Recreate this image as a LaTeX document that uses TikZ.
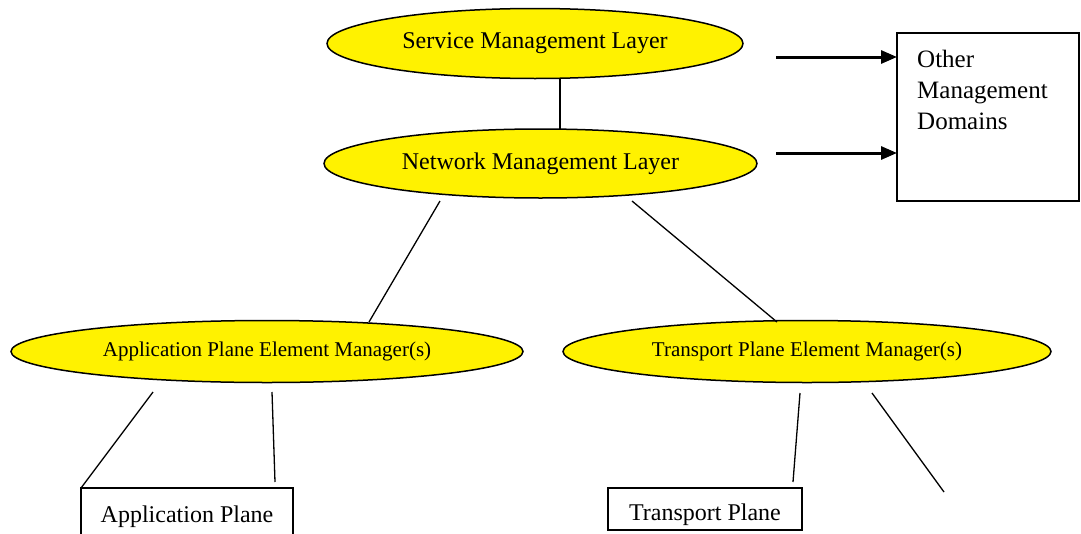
\documentclass[tikz,border=0pt]{standalone}
\usepackage{fontspec}
\setmainfont{Liberation Serif}
\usetikzlibrary{shapes.geometric,calc,arrows.meta}

\tikzset{
  layer/.style={ellipse, draw=black, line width=1.5pt, fill=yellow, inner sep=0pt,
    outer sep=0pt, font=\fontsize{24}{29}\selectfont},
  emgr/.style={ellipse, draw=black, line width=1.5pt, fill=yellow, inner sep=0pt,
    outer sep=0pt, font=\fontsize{21}{25}\selectfont},
  planebox/.style={rectangle, draw=black, line width=1.5pt, inner sep=0pt,
    outer sep=0pt, anchor=north west, font=\fontsize{24}{29}\selectfont},
  domainbox/.style={rectangle, draw=black, line width=1.5pt, inner sep=0pt,
    outer sep=0pt, anchor=north west},
  link/.style={draw=black, line width=1.3pt},
  flow/.style={draw=black, line width=3pt, -{Triangle[length=16pt,width=13pt]}}
}

\begin{document}
\begin{tikzpicture}[x=1pt,y=-1pt]
\useasboundingbox (0,0) rectangle (1081,533);
\clip (0,0) rectangle (1081,533);

% management layers
\node[layer, minimum width=416, minimum height=70] (sml) at (535,43.5) {Service Management Layer};
\node[layer, minimum width=433, minimum height=69] (nml) at (540.5,163.5) {Network Management Layer};

% element managers
\node[emgr, minimum width=512, minimum height=62] (apem) at (267,351.5) {Application Plane Element Manager(s)};
\node[emgr, minimum width=488, minimum height=62] (tpem) at (807,351.5) {Transport Plane Element Manager(s)};

% managed planes
\node[planebox, minimum width=212, minimum height=57] (apbox) at (81,488) {Application Plane};
\node[planebox, minimum width=194, minimum height=42, text height=22pt, text depth=0pt]
  (tpbox) at (608,488) {Transport Plane};

% other domains
\node[domainbox, minimum width=182, minimum height=168] (omd) at (897,33) {};
\node[anchor=north west, align=left, inner sep=0pt, font=\fontsize{25}{31}\selectfont]
  (omdtext) at ($(omd.north west)+(20,17)$) {Other\\Management\\Domains};

% connectors between layers
\draw[link] ($(sml.center)+(25,34.5)$) -- ($(nml.center)+(19.5,-34.5)$);
\draw[link] ($(nml.center)+(-100.5,37.5)$) -- ($(apem.center)+(102,-29.5)$);
\draw[link] ($(nml.center)+(91.5,37.5)$) -- ($(tpem.center)+(-30,-29.5)$);

% connectors to the planes
\draw[link] ($(apem.center)+(-114,40.5)$) -- (apbox.north west);
\draw[link] ($(apem.center)+(5,40.5)$) -- ($(apbox.north)+(88,-6)$);
\draw[link] ($(tpem.center)+(-7,41.5)$) -- ($(tpbox.north)+(88,-6)$);
\coordinate (tpfree) at (944,492);
\draw[link] ($(tpem.center)+(65,41.5)$) -- (tpfree);

% flows into the other domains
\coordinate (f1) at (776,57);
\coordinate (f2) at (776,153);
\draw[flow] (f1) -- (f1 -| omd.west);
\draw[flow] (f2) -- (f2 -| omd.west);
\end{tikzpicture}
\end{document}
